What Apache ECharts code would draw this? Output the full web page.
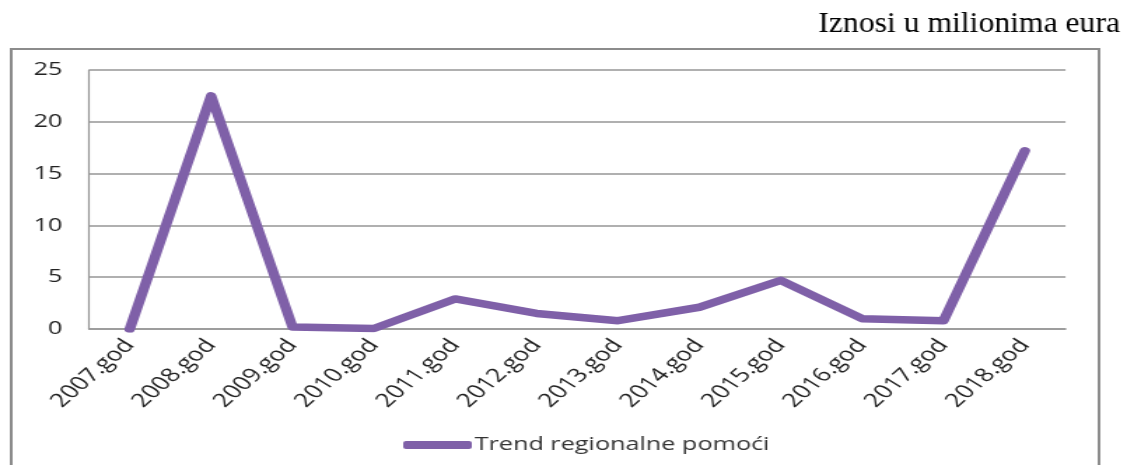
<!DOCTYPE html>
<html>
<head>
<meta charset="utf-8">
<script src="https://cdn.jsdelivr.net/npm/echarts@6/dist/echarts.min.js"></script>
<style>
  html, body { margin: 0; padding: 0; background: #fff; overflow: hidden; }
  /* the source picture is stretched sideways, so the chart is drawn narrow and widened */
  #chart {
    width: 804px;
    height: 465px;
    transform: scaleX(1.4);
    transform-origin: 0 0;
  }
</style>
</head>
<body>
<div id="chart"></div>
<script>
const titleText = 'Iznosi u milionima eura'
const seriesName = 'Trend regionalne pomoći'
const years = ['2007.god', '2008.god', '2009.god', '2010.god', '2011.god', '2012.god',
  '2013.god', '2014.god', '2015.god', '2016.god', '2017.god', '2018.god']
const amounts = [0, 22.5, 0.2, 0.05, 2.9, 1.5, 0.8, 2.1, 4.7, 1.0, 0.8, 17.2]
const yTicks = { min: 0, max: 25, interval: 5 }

const purple = '#7f60a8'
const labelFont = '"Open Sans", "Noto Sans", sans-serif'

const myChart = echarts.init(document.getElementById('chart'))

const option = {
  animation: false,
  graphic: [
    {
      type: 'rect',
      shape: { x: 8, y: 49, width: 777, height: 430 },
      style: { fill: 'none', stroke: '#8c8c8c', lineWidth: 2 },
      silent: true
    },
    {
      type: 'text',
      x: 800,
      y: 24,
      scaleX: 0.78,
      style: {
        text: titleText,
        align: 'right',
        verticalAlign: 'middle',
        fontFamily: '"Liberation Serif", "Times New Roman", serif',
        fontSize: 29,
        fill: '#000'
      }
    }
  ],
  legend: {
    data: [seriesName],
    left: 283,
    top: 431,
    icon: 'roundRect',
    itemWidth: 49,
    itemHeight: 8,
    itemGap: 10,
    textStyle: {
      fontFamily: labelFont,
      fontSize: 18,
      color: '#333',
      padding: [0, 0, 0, -3]
    }
  },
  grid: {
    left: 63.6,
    right: 42.9,
    top: 70,
    bottom: 136,
    containLabel: false
  },
  xAxis: {
    type: 'category',
    data: years,
    boundaryGap: true,
    axisTick: { show: false },
    axisLine: { lineStyle: { color: '#969696', width: 1.6 } },
    axisLabel: {
      rotate: 50,
      margin: 13,
      interval: 0,
      fontFamily: labelFont,
      fontSize: 19,
      color: '#222'
    }
  },
  yAxis: {
    type: 'value',
    min: yTicks.min,
    max: yTicks.max,
    interval: yTicks.interval,
    axisLine: { show: true, lineStyle: { color: '#969696', width: 1.2 } },
    axisTick: { show: false },
    splitLine: { lineStyle: { color: '#969696', width: 1.6 } },
    axisLabel: {
      margin: 19,
      fontFamily: labelFont,
      fontSize: 18,
      color: '#222'
    }
  },
  series: [
    {
      name: seriesName,
      type: 'line',
      data: amounts,
      showSymbol: false,
      symbol: 'none',
      color: purple,
      lineStyle: { color: purple, width: 7.5, cap: 'round', join: 'round' }
    }
  ]
}

myChart.setOption(option)
</script>
</body>
</html>
